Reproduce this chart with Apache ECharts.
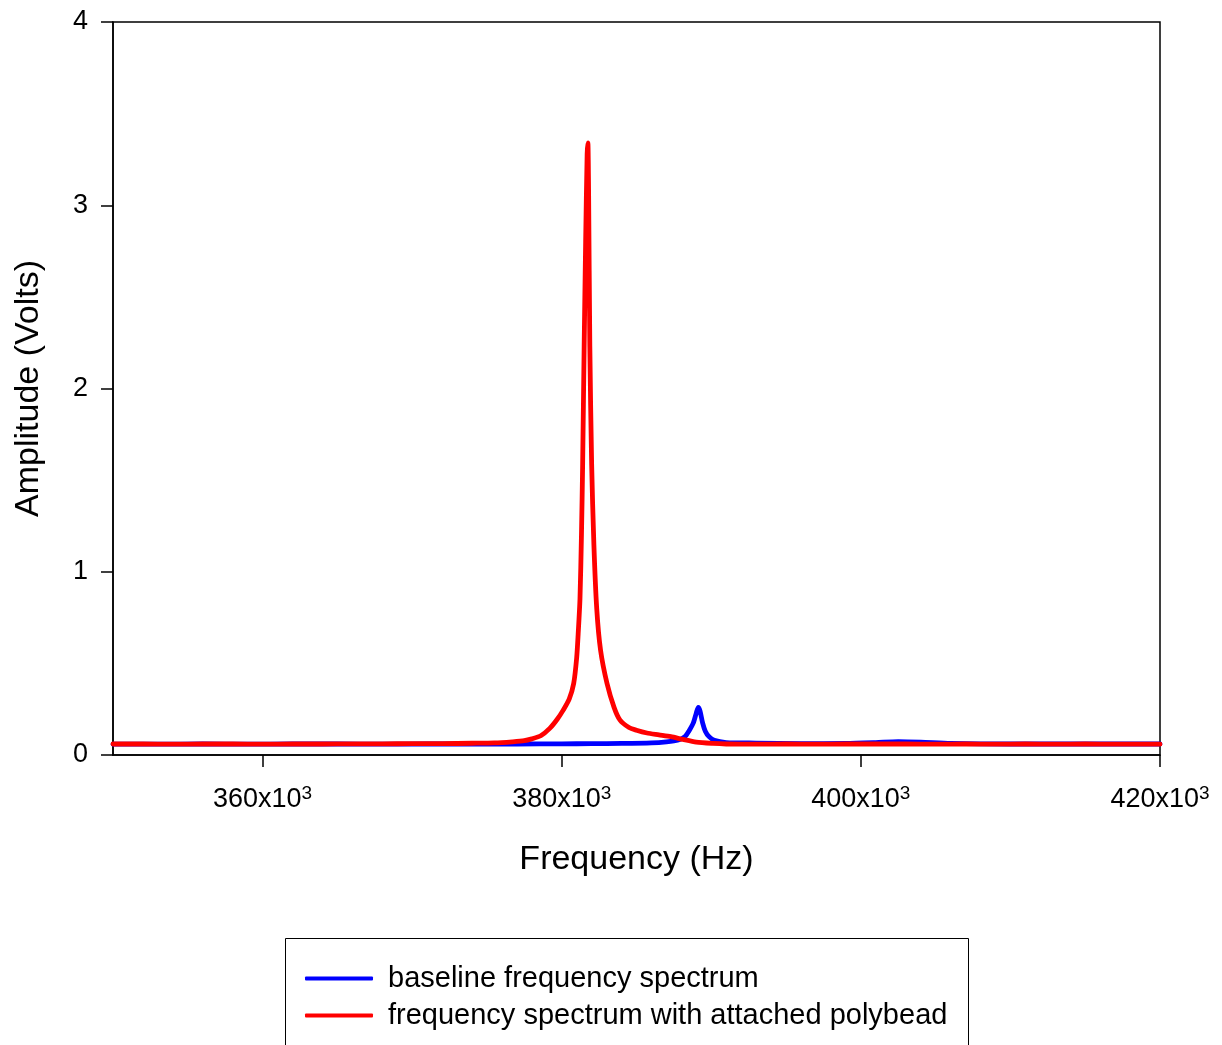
<!DOCTYPE html>
<html>
<head>
<meta charset="utf-8">
<script src="https://cdn.jsdelivr.net/npm/echarts@6/dist/echarts.min.js"></script>
<style>html,body{margin:0;padding:0;background:#fff}#c{width:1222px;height:1045px}</style>
</head>
<body>
<div id="c"></div>
<script>
// Frequencies in kHz (converted to Hz below), amplitudes in Volts
const redFreqK = [350,352,354,356,358,360,362,364,366,368,370,372,374,375.5,376.7,377.5,378.0,378.6,379.2,379.7,380.1,380.5,380.8,381.0,381.1,381.22,381.32,381.40,381.50,381.60,381.70,381.75,381.80,381.88,382.0,382.15,382.34,382.6,383.03,383.5,383.9,384.5,385.0,385.7,386.5,387.3,388.1,389.0,390.1,391,393,395,397,399,401,403,405,407,409,411,413,415,417,420];
const redAmp   = [0.060,0.060,0.059,0.060,0.060,0.059,0.060,0.060,0.061,0.061,0.062,0.062,0.064,0.066,0.072,0.078,0.088,0.105,0.145,0.195,0.245,0.305,0.39,0.53,0.66,0.85,1.20,1.59,2.23,2.80,3.28,3.34,3.05,2.23,1.59,1.15,0.80,0.57,0.39,0.26,0.19,0.15,0.135,0.12,0.11,0.10,0.085,0.07,0.063,0.060,0.059,0.060,0.059,0.060,0.060,0.060,0.059,0.060,0.059,0.060,0.059,0.060,0.059,0.059];
const blueFreqK = [350,353,356,359,362,365,368,371,374,377,380,382,384,386,387,387.8,388.24,388.5,388.8,389.0,389.13,389.25,389.42,389.6,389.85,390.2,391,393,396,399,401,402.5,404,406,410,415,420];
const blueAmp   = [0.059,0.059,0.060,0.059,0.060,0.060,0.059,0.060,0.060,0.060,0.061,0.062,0.063,0.066,0.072,0.082,0.10,0.13,0.175,0.23,0.26,0.24,0.175,0.13,0.10,0.08,0.068,0.065,0.062,0.063,0.068,0.073,0.070,0.063,0.060,0.060,0.060];
const xTicks = [360000,380000,400000,420000];
const yTicks = [0,1,2,3,4];
const seriesNames = ['baseline frequency spectrum','frequency spectrum with attached polybead'];

const toPairs = (fk, a) => fk.map((f, i) => [f * 1000, a[i]]);
const FONT = 'Liberation Sans, Arial, sans-serif';

const chart = echarts.init(document.getElementById('c'));
chart.setOption({
  animation: false,
  backgroundColor: '#fff',
  grid: { left: 113, right: 62, top: 22, bottom: 290, show: true, borderColor: '#000', borderWidth: 1.5, backgroundColor: 'transparent' },
  xAxis: {
    type: 'value', min: 350000, max: 420000,
    name: 'Frequency (Hz)', nameLocation: 'middle', nameGap: 88,
    nameTextStyle: { fontSize: 34, fontFamily: FONT, color: '#000' },
    axisLine: { show: true, onZero: false, lineStyle: { color: '#000', width: 1.5 } },
    axisTick: { show: true, length: 12, inside: false, customValues: xTicks, lineStyle: { color: '#000', width: 1.5 } },
    axisLabel: {
      customValues: xTicks, margin: 29, color: '#000',
      formatter: v => (v / 1000) + 'x10{s|3}',
      fontSize: 27, fontFamily: FONT,
      rich: { s: { fontSize: 19, fontFamily: FONT, color: '#000', verticalAlign: 'top', padding: [0, 0, 12, 0] } }
    },
    splitLine: { show: false }
  },
  yAxis: {
    type: 'value', min: 0, max: 4, interval: 1,
    name: 'Amplitude (Volts)', nameLocation: 'middle', nameGap: 67,
    nameTextStyle: { fontSize: 34, fontFamily: FONT, color: '#000' },
    axisLine: { show: true, lineStyle: { color: '#000', width: 1.5 } },
    axisTick: { show: true, length: 12, inside: false, lineStyle: { color: '#000', width: 1.5 } },
    axisLabel: { margin: 25, fontSize: 27, fontFamily: FONT, color: '#000', formatter: v => yTicks.includes(v) ? String(v) : '' },
    splitLine: { show: false }
  },
  legend: {
    orient: 'vertical', left: 300, top: 959, itemGap: 8,
    icon: 'roundRect', itemWidth: 68, itemHeight: 4,
    textStyle: { fontSize: 29, fontFamily: FONT, color: '#000', padding: [0, 0, 0, 10] },
    data: seriesNames
  },
  graphic: [{
    type: 'rect', z: -1,
    shape: { x: 285.5, y: 938.5, width: 683, height: 200 },
    style: { fill: 'transparent', stroke: '#000', lineWidth: 1 }
  }],
  series: [
    { name: seriesNames[0], type: 'line', data: toPairs(blueFreqK, blueAmp), showSymbol: false, symbol: 'none', smooth: 0.25, lineStyle: { color: '#0000ff', width: 4.8, cap: 'round', join: 'round' }, itemStyle: { color: '#0000ff' } },
    { name: seriesNames[1], type: 'line', data: toPairs(redFreqK, redAmp), showSymbol: false, symbol: 'none', smooth: 0.25, lineStyle: { color: '#ff0000', width: 4.8, cap: 'round', join: 'round' }, itemStyle: { color: '#ff0000' } }
  ]
});
</script>
</body>
</html>
